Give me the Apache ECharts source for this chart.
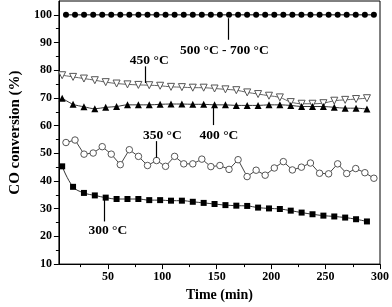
<!DOCTYPE html>
<html><head><meta charset="utf-8">
<script src="https://cdn.jsdelivr.net/npm/echarts@6/dist/echarts.min.js"></script>
<style>html,body{margin:0;padding:0;background:#fff}#c{width:392px;height:307px}</style>
</head><body><div id="c"></div>
<script>
// time (min) for the dense series (500-700 °C and 350 °C)
const timeDense = [11.5,19.8,28.1,36.5,44.8,53.1,61.4,69.7,78.1,86.4,94.7,103.0,111.3,119.7,128.0,136.3,144.6,152.9,161.3,169.6,177.9,186.2,194.5,202.9,211.2,219.5,227.8,236.1,244.5,252.8,261.1,269.4,277.7,286.1,294.4];
// time (min) for 300, 400, 450 °C series
const timeSparse = [8,18,28,38,48,58,68,78,88,98,108,118,128,138,148,158,168,178,188,198,208,218,228,238,248,258,268,278,288];

const conv500_700 = [100,100,100,100,100,100,100,100,100,100,100,100,100,100,100,100,100,100,100,100,100,100,100,100,100,100,100,100,100,100,100,100,100,100,100];
const conv450 = [78.2,77.6,77.0,76.4,75.7,75.2,74.9,74.7,74.6,74.4,74.0,73.9,73.7,73.7,73.4,73.1,72.8,72.0,71.4,70.8,70.2,68.5,67.9,67.9,68.1,69.0,69.3,69.6,69.9];
const conv400 = [69.9,67.7,66.8,66.1,66.6,66.9,67.5,67.5,67.5,67.7,67.8,67.8,67.7,67.7,67.5,67.5,67.3,67.3,67.3,67.5,67.5,67.3,66.9,66.9,66.9,66.6,66.3,66.3,66.0];
const conv350 = [53.9,54.8,49.7,50.1,52.4,49.7,45.9,51.3,48.9,45.6,47.4,45.3,48.9,46.2,46.2,47.9,45.2,45.6,44.2,47.7,41.6,43.9,42.1,44.7,47.0,44.0,45.0,46.5,42.8,42.6,46.2,42.7,44.5,43.0,41.0];
const conv300 = [45.3,37.9,35.7,34.8,34.0,33.5,33.5,33.5,33.1,33.1,32.9,32.9,32.5,32.1,31.7,31.3,31.1,31.0,30.4,30.1,29.9,29.3,28.6,28.0,27.5,27.2,26.8,26.2,25.4];

const xTicks = [50,100,150,200,250,300];
const xMinorTicks = [25,75,125,175,225,275];
const yTicks = [10,20,30,40,50,60,70,80,90,100];
const yMinorTicks = [15,25,35,45,55,65,75,85,95];

// annotations: label text, label anchor (data coords), arrow tail -> head (data coords)
const annotations = [
  {text:'500 °C - 700 °C', at:[157,87.3], from:[160.8,91.0], to:[160.8,98.8]},
  {text:'450 °C', at:[88,83.6], from:[84.5,81.4], to:[84.5,75.4]},
  {text:'400 °C', at:[152,56.6], from:[147.2,60.2], to:[147.2,66.8]},
  {text:'350 °C', at:[100,56.5], from:[94.1,54.4], to:[94.1,48.4]},
  {text:'300 °C', at:[50,22.2], from:[46.3,25.4], to:[46.3,33.2]}
];

const pair = (xs, ys) => xs.map((x, i) => [x, ys[i]]);
const font = 'Liberation Serif, Times New Roman, serif';

const chart = echarts.init(document.getElementById('c'), null, {renderer:'canvas'});
const axisCommon = {
  type:'value',
  axisLine:{show:true, lineStyle:{color:'#000', width:1}},
  splitLine:{show:false}
};
chart.setOption({
  animation:false,
  backgroundColor:'#fff',
  grid:{left:42, right:10, top:1, bottom:39, show:true, borderColor:'#000', borderWidth:1, backgroundColor:'transparent'},
  xAxis:[
    Object.assign({}, axisCommon, {
      min:5, max:300,
      name:'Time (min)', nameLocation:'middle', nameGap:22,
      nameTextStyle:{fontFamily:font, fontWeight:'bold', fontSize:14, color:'#000'},
      axisTick:{show:true, length:5, customValues:xTicks, lineStyle:{color:'#000'}},
      axisLabel:{customValues:xTicks, margin:7, fontFamily:font, fontWeight:'bold', fontSize:12, color:'#000'}
    }),
    Object.assign({}, axisCommon, {
      min:5, max:300, position:'bottom',
      axisLine:{show:false},
      axisTick:{show:true, length:3, customValues:xMinorTicks, lineStyle:{color:'#000'}},
      axisLabel:{show:false}
    })
  ],
  yAxis:[
    Object.assign({}, axisCommon, {
      min:10, max:105,
      name:'CO conversion (%)', nameLocation:'middle', nameGap:24,
      nameTextStyle:{fontFamily:font, fontWeight:'bold', fontSize:15, color:'#000'},
      axisTick:{show:true, length:5, customValues:yTicks, lineStyle:{color:'#000'}},
      axisLabel:{customValues:yTicks, margin:7, fontFamily:font, fontWeight:'bold', fontSize:12, color:'#000'}
    }),
    Object.assign({}, axisCommon, {
      min:10, max:105, position:'left',
      axisLine:{show:false},
      axisTick:{show:true, length:3, customValues:yMinorTicks, lineStyle:{color:'#000'}},
      axisLabel:{show:false}
    })
  ],
  series:[
    {
      type:'line', name:'500-700', data:pair(timeDense, conv500_700),
      symbol:'circle', symbolSize:6, itemStyle:{color:'#000'},
      lineStyle:{color:'#000', width:1},
      z:5,
      markLine:{
        silent:true, symbol:['none','arrow'], symbolSize:[0,7],
        lineStyle:{color:'#000', width:1.2, type:'solid'},
        emphasis:{disabled:true},
        label:{show:false},
        data:annotations.map(a => [{coord:a.from}, {coord:a.to}])
      },
      markPoint:{
        silent:true, symbol:'circle', symbolSize:1,
        itemStyle:{color:'rgba(0,0,0,0)'},
        label:{show:true, position:'inside', formatter:'{b}', fontFamily:font, fontWeight:'bold', fontSize:13.5, color:'#000'},
        data:annotations.map(a => ({name:a.text, coord:a.at}))
      }
    },
    {
      type:'line', name:'450', data:pair(timeSparse, conv450), smooth:0.3,
      symbol:'triangle', symbolRotate:180, symbolSize:7,
      itemStyle:{color:'#fff', borderColor:'#555', borderWidth:1},
      lineStyle:{color:'#666', width:1}
    },
    {
      type:'line', name:'400', data:pair(timeSparse, conv400), smooth:0.3,
      symbol:'triangle', symbolSize:7, itemStyle:{color:'#000'},
      lineStyle:{color:'#333', width:1}
    },
    {
      type:'line', name:'350', data:pair(timeDense, conv350),
      symbol:'circle', symbolSize:6.5,
      itemStyle:{color:'#fff', borderColor:'#555', borderWidth:1},
      lineStyle:{color:'#444', width:1}
    },
    {
      type:'line', name:'300', data:pair(timeSparse, conv300), smooth:0.4,
      symbol:'rect', symbolSize:6, itemStyle:{color:'#000'},
      lineStyle:{color:'#333', width:1}
    }
  ]
});
</script></body></html>
